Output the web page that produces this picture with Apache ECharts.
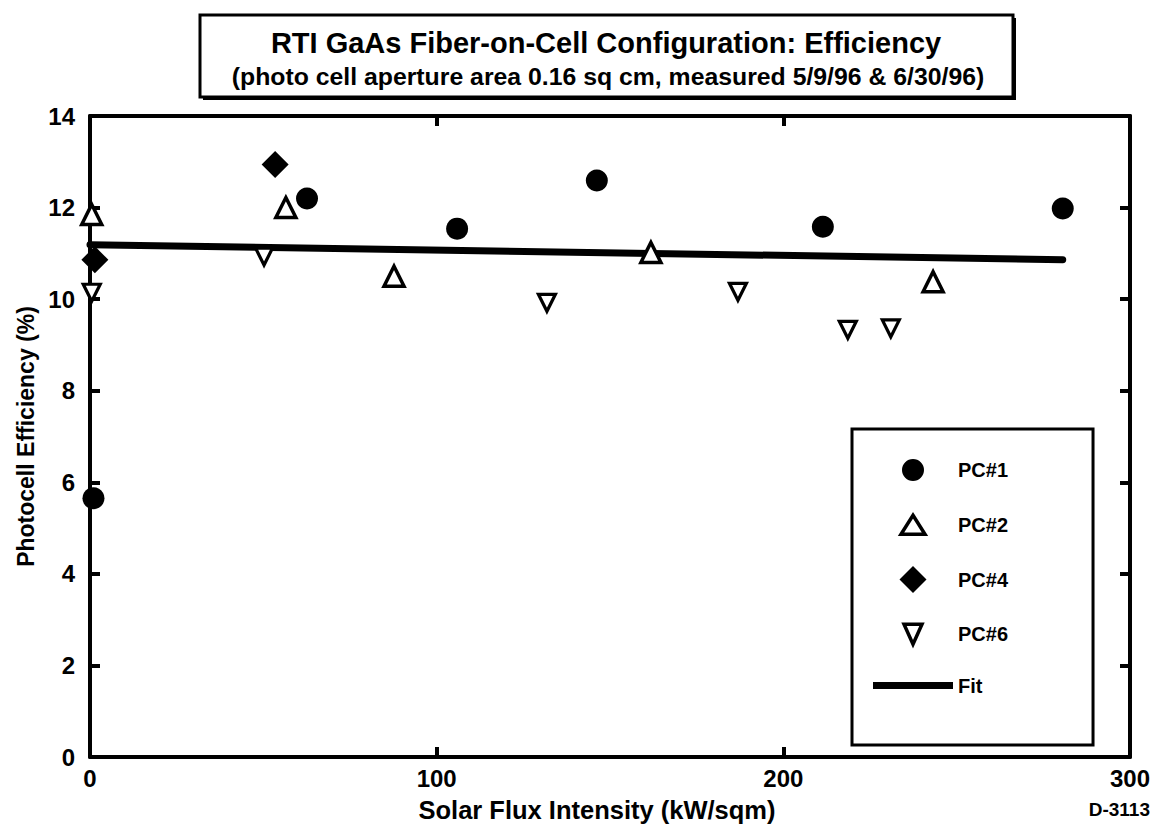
<!DOCTYPE html>
<html>
<head>
<meta charset="utf-8">
<script src="https://cdn.jsdelivr.net/npm/echarts@6/dist/echarts.min.js"></script>
<style>
html,body{margin:0;padding:0;background:#fff;}
#chart{width:1156px;height:826px;}
</style>
</head>
<body>
<div id="chart"></div>
<script>
// ---- data ----
const titleText = 'RTI GaAs Fiber-on-Cell Configuration: Efficiency';
const subtitleText = '(photo cell aperture area 0.16 sq cm, measured 5/9/96 & 6/30/96)';
const xAxisName = 'Solar Flux Intensity (kW/sqm)';
const yAxisName = 'Photocell Efficiency (%)';
const noteText = 'D-3113';
const seriesNames = ['PC#1', 'PC#2', 'PC#4', 'PC#6', 'Fit'];
const xTickLabels = [0, 100, 200, 300];
const yTickLabels = [0, 2, 4, 6, 8, 10, 12, 14];
const pc1 = [[1, 5.65], [62.6, 12.2], [105.9, 11.54], [146.2, 12.59], [211.4, 11.58], [280.6, 11.98]];
const pc2 = [[0.5, 11.85], [56.5, 12.0], [87.7, 10.5], [161.8, 11.02], [243.2, 10.38]];
const pc4 = [[1.4, 10.86], [53.4, 12.94]];
const pc6 = [[0.5, 10.14], [50.2, 10.93], [131.8, 9.92], [186.9, 10.16], [218.6, 9.33], [231, 9.36]];
const fit = [[0, 11.19], [280.6, 10.86]];

// ---- chart ----
const FONT = '"Liberation Sans", Arial, Helvetica, sans-serif';
const chart = echarts.init(document.getElementById('chart'), null, {renderer: 'svg'});

function axisCommon(showLabel) {
  return {
    type: 'value',
    axisLine: {show: true, onZero: false, lineStyle: {color: '#000', width: 4}},
    axisTick: {show: true, inside: true, length: 10, lineStyle: {color: '#000', width: 4}},
    splitLine: {show: false},
    axisLabel: {
      show: showLabel, color: '#000', fontSize: 24, fontWeight: 'bold', fontFamily: FONT,
      showMinLabel: true, showMaxLabel: true
    }
  };
}
const xMin = xTickLabels[0], xMax = xTickLabels[xTickLabels.length - 1], xInt = xTickLabels[1] - xTickLabels[0];
const yMin = yTickLabels[0], yMax = yTickLabels[yTickLabels.length - 1], yInt = yTickLabels[1] - yTickLabels[0];

const xBottom = Object.assign(axisCommon(true), {
  position: 'bottom', min: xMin, max: xMax, interval: xInt,
  name: xAxisName, nameLocation: 'middle', nameGap: 40,
  nameTextStyle: {color: '#000', fontSize: 25.5, fontWeight: 'bold', fontFamily: FONT, padding: [0, 26, 0, 0]}
});
xBottom.axisLabel.margin = 9;
const xTop = Object.assign(axisCommon(false), {position: 'top', min: xMin, max: xMax, interval: xInt});
const yLeft = Object.assign(axisCommon(true), {
  position: 'left', min: yMin, max: yMax, interval: yInt,
  name: yAxisName, nameLocation: 'middle', nameGap: 53,
  nameTextStyle: {color: '#000', fontSize: 23, fontWeight: 'bold', fontFamily: FONT}
});
yLeft.axisLabel.margin = 15;
yLeft.axisLabel.padding = [8, 0, 0, 0];
const yRight = Object.assign(axisCommon(false), {position: 'right', min: yMin, max: yMax, interval: yInt});

const openStyle = {color: '#fff', borderColor: '#000', borderWidth: 3.5, opacity: 1};
const solidStyle = {color: '#000', borderWidth: 0, opacity: 1};

// legend icon shapes, drawn inside a 27x27 frame (kept aspect) and their styles
const legendIcons = {
  'PC#1': ['path://M0,0M27,27M2.5,13.5A11,11,0,1,1,24.5,13.5A11,11,0,1,1,2.5,13.5Z', solidStyle],
  'PC#2': ['path://M0,0M27,27M13.5,4L25.5,23L1.5,23Z', openStyle],
  'PC#4': ['path://M13.5,0L27,13.5L13.5,27L0,13.5Z', solidStyle],
  'PC#6': ['path://M0,0M27,27M4.5,3.5L22.5,3.5L13.5,23.5Z', openStyle],
  'Fit': ['path://M0,0L80,0L80,7L0,7Z', solidStyle]
};

const option = {
  backgroundColor: '#fff',
  animation: false,
  title: [
    {text: titleText, left: 606, top: 28, textAlign: 'center', padding: 0,
     textStyle: {color: '#000', fontSize: 29, fontWeight: 'bold', fontFamily: FONT}, z: 10},
    {text: subtitleText, left: 608, top: 64, textAlign: 'center', padding: 0,
     textStyle: {color: '#000', fontSize: 24.8, fontWeight: 'bold', fontFamily: FONT}, z: 10},
    {text: noteText, right: 6, top: 800, padding: 0,
     textStyle: {color: '#000', fontSize: 19, fontWeight: 'bold', fontFamily: FONT}, z: 10}
  ],
  graphic: [
    {type: 'rect', z: 1, shape: {x: 203, y: 18, width: 813, height: 82}, style: {fill: '#000'}},
    {type: 'rect', z: 2, shape: {x: 200, y: 15, width: 813, height: 82},
     style: {fill: '#fff', stroke: '#000', lineWidth: 3}}
  ],
  grid: {left: 90, right: 26, top: 116, bottom: 69, containLabel: false, outerBoundsMode: 'none'},
  xAxis: [xBottom, xTop],
  yAxis: [yLeft, yRight],
  legend: {
    data: seriesNames.map(n => ({name: n, icon: legendIcons[n][0], itemStyle: legendIcons[n][1]})),
    orient: 'vertical', left: 852, top: 429,
    padding: [27.5, 85, 49.5, 21],
    itemWidth: 80, itemHeight: 27, itemGap: 26,
    symbolKeepAspect: true,
    borderColor: '#000', borderWidth: 3, borderRadius: 0,
    backgroundColor: '#fff',
    selectedMode: false,
    textStyle: {color: '#000', fontSize: 20, fontWeight: 'bold', fontFamily: FONT}
  },
  series: [
    {name: 'Fit', type: 'line', data: fit, symbol: 'none', xAxisIndex: 0, yAxisIndex: 0,
     lineStyle: {color: '#000', width: 7, cap: 'round', opacity: 1}, itemStyle: solidStyle, z: 2},
    {name: 'PC#1', type: 'scatter', data: pc1, symbol: 'circle', symbolSize: 22,
     itemStyle: solidStyle, z: 3},
    {name: 'PC#2', type: 'scatter', data: pc2, symbol: 'triangle', symbolSize: 20,
     itemStyle: openStyle, z: 3},
    {name: 'PC#4', type: 'scatter', data: pc4, symbol: 'diamond', symbolSize: 27,
     itemStyle: solidStyle, z: 3},
    {name: 'PC#6', type: 'scatter', data: pc6, symbol: 'triangle', symbolRotate: 180, symbolSize: 17,
     itemStyle: {color: '#fff', borderColor: '#000', borderWidth: 3.2, opacity: 1}, z: 3}
  ]
};
chart.setOption(option);
</script>
</body>
</html>
